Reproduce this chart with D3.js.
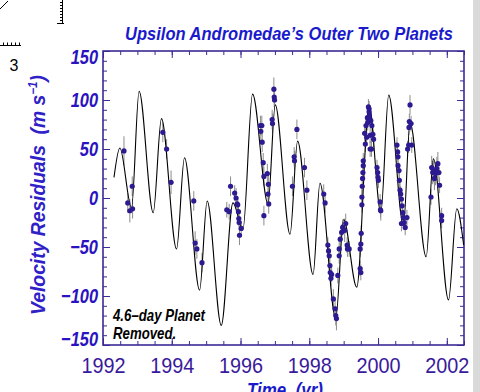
<!DOCTYPE html>
<html>
<head>
<meta charset="utf-8">
<title>Upsilon Andromedae residuals</title>
<script src="https://cdn.jsdelivr.net/npm/d3@7"></script>
<style>
  body { margin: 0; background: #fff; }
  svg { display: block; font-family: "Liberation Sans", Arial, Helvetica, sans-serif; }
</style>
</head>
<body>
<svg width="480" height="392"></svg>
<script>
// two-planet fit at its turning points
var fitYear = [1992.32, 1992.49, 1992.83, 1993.05, 1993.46, 1993.70, 1994.14, 1994.37, 1994.81, 1995.03,
               1995.44, 1995.78, 1996.07, 1996.35, 1996.80, 1997.01, 1997.44, 1997.66, 1998.11, 1998.31,
               1998.77, 1999.00, 1999.38, 1999.74, 2000.08, 2000.31, 2000.74, 2000.93, 2001.40, 2001.61,
               2002.05, 2002.29, 2002.49];
var fitVel = [21, 51, -10, 109, -15, 81, -52, 41, -94, -3,
              -130, -5, -32, 106, -6, 95, -37, 58, -78, 15,
              -123, -22, -91, 94, -15, 105, -28, 77, -60, 40,
              -104, -11, -48];

// observations: [year, residual (m/s), error (m/s)]
var obs = [
  [1992.61, 48, 15], [1992.72, -5, 10], [1992.78, -13, 12], [1992.86, -11, 10], [1992.85, 12, 10],
  [1993.74, 67, 10], [1993.85, 50, 10], [1993.98, 16, 12],
  [1994.64, -3, 10], [1994.68, -46, 12], [1994.73, -52, 10], [1994.88, -66, 10],
  [1995.60, -12, 8], [1995.67, -14, 8], [1995.71, 12, 10], [1995.83, 5, 8], [1995.87, 0, 10],
  [1995.90, -6, 8], [1995.92, -7, 8], [1995.94, -14, 8], [1995.95, -21, 8], [1995.96, -25, 8],
  [1995.97, -38, 10], [1996.02, -31, 8],
  [1996.58, 74, 10], [1996.62, 74, 10], [1996.59, 68, 10], [1996.63, 57, 10], [1996.66, 36, 10],
  [1996.68, 22, 10], [1996.68, -18, 10], [1996.78, 25, 10], [1996.81, 14, 10], [1996.80, 4, 10],
  [1996.82, -6, 10], [1996.92, 80, 10], [1996.93, 76, 10], [1996.97, 111, 12], [1996.98, 103, 10],
  [1996.99, 100, 10],
  [1997.51, 12, 10], [1997.56, 42, 10], [1997.57, 38, 10], [1997.64, 70, 10], [1997.86, 31, 10],
  [1997.93, 8, 10],
  [1998.42, 4, 10], [1998.46, -5, 10], [1998.54, -48, 8], [1998.56, -54, 8], [1998.58, -59, 8],
  [1998.60, -69, 8], [1998.61, -76, 8], [1998.63, -82, 8], [1998.65, -78, 8], [1998.70, -103, 10],
  [1998.75, -113, 10], [1998.77, -120, 10], [1998.79, -123, 12], [1998.83, -79, 8], [1998.87, -59, 8],
  [1998.87, -52, 8], [1998.90, -42, 8], [1998.94, -35, 8], [1998.97, -30, 8], [1999.03, -33, 12],
  [1999.06, -26, 10], [1999.10, -48, 8], [1999.11, -52, 8], [1999.16, -52, 8],
  [1999.48, -52, 8], [1999.48, -72, 8], [1999.50, -76, 8], [1999.50, -47, 8], [1999.51, -36, 8],
  [1999.53, -7, 8], [1999.53, 1, 8], [1999.54, 12, 8], [1999.55, 20, 8], [1999.56, 26, 8],
  [1999.57, 33, 8], [1999.57, 38, 8], [1999.61, 66, 8], [1999.63, 55, 8], [1999.65, 74, 8],
  [1999.67, 62, 8], [1999.69, 82, 8], [1999.70, 77, 8], [1999.72, 93, 8], [1999.74, 88, 8],
  [1999.74, 91, 8], [1999.75, 84, 8], [1999.77, 64, 8], [1999.77, 50, 8], [1999.79, 79, 8],
  [1999.82, 74, 8], [1999.81, 50, 8], [1999.85, 65, 8], [1999.87, 60, 8],
  [1999.97, 31, 8], [1999.99, 26, 8], [2000.00, 21, 8], [2000.01, 18, 8], [2000.06, -4, 8],
  [2000.07, -12, 8], [2000.08, -13, 10],
  [2000.55, 54, 8], [2000.57, 47, 8], [2000.58, 42, 8], [2000.58, 33, 8], [2000.61, 28, 8],
  [2000.62, 18, 8], [2000.64, 8, 8], [2000.66, 4, 8], [2000.68, -1, 8], [2000.68, -26, 8],
  [2000.70, -8, 8], [2000.72, -15, 8], [2000.74, -20, 8], [2000.76, -25, 8], [2000.79, -30, 8],
  [2000.84, -20, 8],
  [2000.86, 50, 8], [2000.89, 54, 8], [2000.90, 72, 8], [2000.91, 78, 8], [2000.93, 95, 10],
  [2000.96, 76, 8], [2000.98, 54, 8],
  [2001.54, 1, 8], [2001.56, 31, 12], [2001.59, 26, 12], [2001.61, 28, 12], [2001.64, 20, 12],
  [2001.67, 25, 12], [2001.71, 30, 12], [2001.74, 35, 12], [2001.77, 26, 10], [2001.79, 13, 8],
  [2001.85, -18, 8], [2001.85, -23, 8]
];

var xTicks = [1992, 1994, 1996, 1998, 2000, 2002];
var yTicks = [-150, -100, -50, 0, 50, 100, 150];

var svg = d3.select('svg');
var frameColor = '#3c2a96';
var x0 = 103, x1 = 464, y0 = 51, y1 = 345;

var x = d3.scaleLinear().domain([1992, 2002.5]).range([x0, x1]);
var y = d3.scaleLinear().domain([-150, 150]).range([y1, y0]);

// squeeze a text to look like the narrow plotting font
function squeeze(sel, k) {
  sel.each(function() {
    var w = this.getComputedTextLength();
    d3.select(this).attr('textLength', w * k).attr('lengthAdjust', 'spacingAndGlyphs');
  });
}

// bits of the neighbouring figure that got cropped in
var crop = svg.append('g').attr('stroke', '#000').attr('stroke-width', 1).attr('fill', 'none');
crop.append('line').attr('x1', 0).attr('y1', 9).attr('x2', 8).attr('y2', 1);
crop.append('line').attr('x1', 62.5).attr('y1', 0).attr('x2', 62.5).attr('y2', 23);
crop.append('line').attr('x1', 57).attr('y1', 23.5).attr('x2', 64).attr('y2', 23.5);
crop.selectAll('.rt').data(d3.range(2, 22, 3)).enter().append('line')
  .attr('x1', 60).attr('x2', 62.5).attr('y1', function(d) { return d + 0.5; }).attr('y2', function(d) { return d + 0.5; });
crop.append('line').attr('x1', 0).attr('y1', 45.5).attr('x2', 21).attr('y2', 45.5);
crop.selectAll('.bt').data([3, 7, 11, 15, 19]).enter().append('line')
  .attr('x1', function(d) { return d + 0.5; }).attr('x2', function(d) { return d + 0.5; }).attr('y1', 42.5).attr('y2', 45.5);
svg.append('text').attr('x', 14).attr('y', 71).attr('text-anchor', 'middle')
  .attr('font-size', 16).attr('fill', '#000').text('3');

// grey strip at the right edge
svg.append('rect').attr('x', 473).attr('y', 0).attr('width', 7).attr('height', 392).attr('fill', '#d9d9d9');

// minor ticks, pointing inward on all four sides
var xMinor = d3.range(1992, 2002.51, 0.5);
var yMinor = d3.range(-150, 151, 10);
function ticks(axis, tx, ty) {
  var g = svg.append('g').attr('transform', 'translate(' + tx + ',' + ty + ')').call(axis);
  g.select('.domain').remove();
  g.selectAll('line').attr('stroke', frameColor).attr('stroke-width', 1);
  return g;
}
ticks(d3.axisBottom(x).tickValues(xMinor).tickSize(-4).tickFormat(''), 0, y1);
ticks(d3.axisTop(x).tickValues(xMinor).tickSize(-4).tickFormat(''), 0, y0);
ticks(d3.axisLeft(y).tickValues(yMinor).tickSize(-4).tickFormat(''), x0, 0);
ticks(d3.axisRight(y).tickValues(yMinor).tickSize(-4).tickFormat(''), x1, 0);

// major ticks
var xAxis = ticks(d3.axisBottom(x).tickValues(xTicks).tickSize(-7).tickPadding(12).tickFormat(d3.format('d')), 0, y1);
ticks(d3.axisTop(x).tickValues(xTicks).tickSize(-7).tickFormat(''), 0, y0);
var yAxis = ticks(d3.axisLeft(y).tickValues(yTicks).tickSize(-7).tickPadding(5).tickFormat(d3.format('d')), x0, 0);
ticks(d3.axisRight(y).tickValues(yTicks).tickSize(-7).tickFormat(''), x1, 0);

xAxis.selectAll('text')
  .attr('font-family', '"Liberation Sans", Arial, sans-serif')
  .attr('font-size', 22).attr('fill', '#3a1a9c');
squeeze(xAxis.selectAll('text'), 0.9);

yAxis.selectAll('text')
  .attr('font-family', '"Liberation Sans", Arial, sans-serif')
  .attr('font-size', 20).attr('font-weight', 'bold').attr('font-style', 'italic')
  .attr('fill', '#2a12c0')
  .attr('dy', function(d) { return d === 150 ? '0.62em' : (d === -150 ? '0.02em' : '0.34em'); });
squeeze(yAxis.selectAll('text'), 0.82);

// frame
svg.append('rect').attr('x', x0).attr('y', y0).attr('width', x1 - x0).attr('height', y1 - y0)
  .attr('fill', 'none').attr('stroke', frameColor).attr('stroke-width', 1.6);

// error bars
svg.append('g').selectAll('line').data(obs).enter().append('line')
  .attr('x1', function(d) { return x(d[0]); })
  .attr('x2', function(d) { return x(d[0]); })
  .attr('y1', function(d) { return y(d[1] - d[2]); })
  .attr('y2', function(d) { return y(d[1] + d[2]); })
  .attr('stroke', '#8c8c8c').attr('stroke-width', 1);

// fitted curve
var line = d3.line()
  .x(function(d) { return x(d); })
  .y(function(d, i) { return y(fitVel[i]); })
  .curve(d3.curveMonotoneX);
svg.append('path').attr('d', line(fitYear))
  .attr('fill', 'none').attr('stroke', '#000').attr('stroke-width', 1.1);

// points
svg.append('g').selectAll('circle').data(obs).enter().append('circle')
  .attr('cx', function(d) { return x(d[0]); })
  .attr('cy', function(d) { return y(d[1]); })
  .attr('r', 2.6)
  .attr('fill', '#2b1a90');

// title
var title = svg.append('text').attr('text-anchor', 'middle')
  .attr('font-size', 18).attr('font-weight', 'bold').attr('font-style', 'italic')
  .attr('fill', '#1a1acc').text('Upsilon Andromedae\u2019s Outer Two Planets');
var kt = 328 / title.node().getComputedTextLength();
title.attr('transform', 'translate(289,40) scale(' + kt + ',1)');

// y label
var ylab = svg.append('text').attr('text-anchor', 'middle')
  .attr('font-size', 20).attr('font-weight', 'bold').attr('font-style', 'italic')
  .attr('fill', '#3020c8');
ylab.append('tspan').text('Velocity Residuals\u00a0\u00a0(m s');
ylab.append('tspan').attr('font-size', 12).attr('dy', -8).text('\u22121');
ylab.append('tspan').attr('dy', 8).text(')');
var ky = 240 / ylab.node().getComputedTextLength();
ylab.attr('transform', 'translate(45,195) rotate(-90) scale(' + ky + ',1)');

// x label, cut by the bottom edge
var xlab = svg.append('text').attr('text-anchor', 'middle')
  .attr('font-size', 20).attr('font-weight', 'bold').attr('font-style', 'italic')
  .attr('fill', '#1a1acc').text('Time\u00a0\u00a0(yr)');
var kx = 76 / xlab.node().getComputedTextLength();
xlab.attr('transform', 'translate(285,397) scale(' + kx + ',1)');

// note in the corner
var note = svg.append('g').attr('font-size', 16).attr('font-weight', 'bold').attr('font-style', 'italic').attr('fill', '#000');
var n1 = note.append('text').text('4.6\u2013day Planet');
var kn = 92 / n1.node().getComputedTextLength();
n1.attr('transform', 'translate(113,321) scale(' + kn + ',1)');
note.append('text').text('Removed.').attr('transform', 'translate(113,339) scale(' + kn + ',1)');
</script>
</body>
</html>
